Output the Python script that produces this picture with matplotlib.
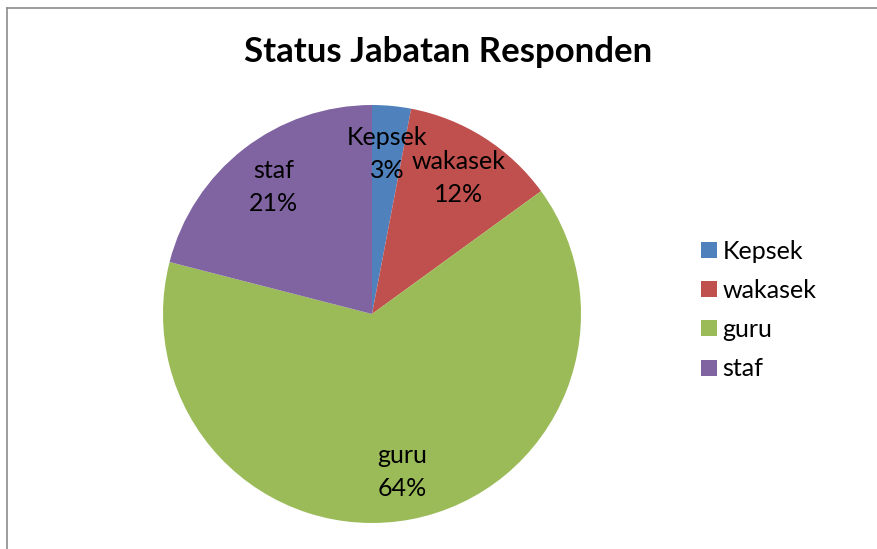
import numpy as np
import matplotlib.pyplot as plt
from matplotlib.lines import Line2D

# Data
categories = ["Kepsek", "wakasek", "guru", "staf"]
percent = [3, 12, 64, 21]
colors = ["#4F81BD", "#C0504D", "#9BBB59", "#8064A2"]

plt.rcParams['font.family'] = ['Lato', 'DejaVu Sans']

W, H = 877, 549
fig = plt.figure(figsize=(W / 100, H / 100), dpi=100)

# pie axes: center (372, 314) px, radius 209 px
cx, cy, r = 372, 314, 209
ax = fig.add_axes([(cx - r) / W, (H - cy - r) / H, 2 * r / W, 2 * r / H])
wedges, _ = ax.pie(percent, colors=colors, startangle=90, counterclock=False,
                   wedgeprops=dict(linewidth=0))
ax.set_xlim(-1, 1)
ax.set_ylim(-1, 1)
ax.set_aspect('equal')
ax.axis('off')

# data labels inside slices (name above, percent below)
half = 16.5 / r  # half line gap in axes units
for w, name, p in zip(wedges, categories, percent):
    ang = np.deg2rad((w.theta1 + w.theta2) / 2)
    x, y = 0.77 * np.cos(ang), 0.77 * np.sin(ang)
    ax.text(x, y + half, name, ha='center', va='center', fontsize=18)
    ax.text(x, y - half, f"{p}%", ha='center', va='center', fontsize=18)

# title
fig.text(448 / W, 1 - 52 / H, "Status Jabatan Responden", ha='center', va='center',
         fontsize=25, fontweight='bold')

# legend
handles = [Line2D([0], [0], marker='s', linestyle='none', markersize=11,
                  markerfacecolor=c, markeredgewidth=0) for c in colors]
fig.legend(handles, categories, loc='center left', bbox_to_anchor=(685 / W, 1 - 310 / H),
           frameon=False, fontsize=18, handletextpad=0.1, labelspacing=0.65,
           handlelength=0.9, borderpad=0)

# chart border (left and top visible)
fig.add_artist(Line2D([6.5 / W, 6.5 / W], [0, 1 - 7.5 / H], color='#8c8c8c', lw=1.2))
fig.add_artist(Line2D([6.5 / W, 1], [1 - 7.5 / H, 1 - 7.5 / H], color='#8c8c8c', lw=1.2))

fig.savefig("out.png", dpi=100)
